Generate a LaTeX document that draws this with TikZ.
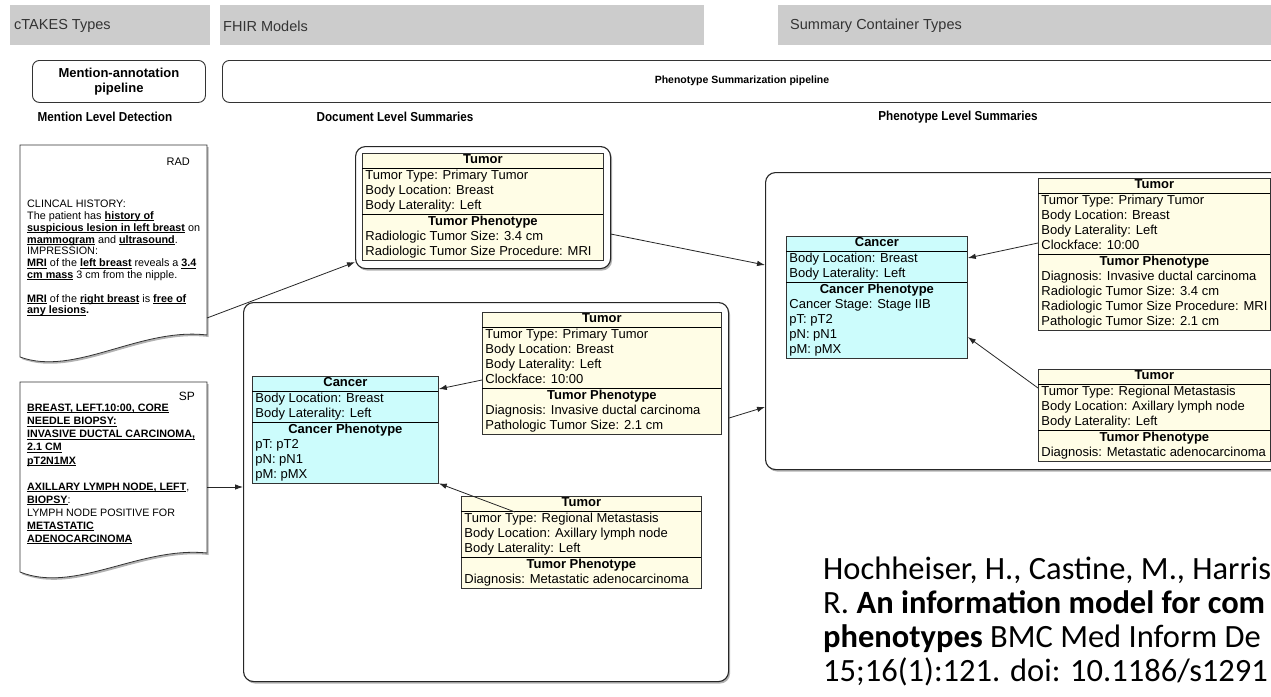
\documentclass[tikz,border=0pt]{standalone}
\usepackage{fontspec}
\setmainfont{Liberation Sans}
\newfontfamily\citefont{Carlito}
\usepackage{array}
\usepackage{graphicx}
\usetikzlibrary{arrows.meta,shadows,calc}

\definecolor{barGray}{HTML}{CCCCCC}
\definecolor{tumorFill}{HTML}{FFFDE6}
\definecolor{cancerFill}{HTML}{CCFCFC}
\definecolor{lineGray}{HTML}{333333}

\newcommand{\fsz}[2]{\fontsize{#1pt}{#2pt}\selectfont}
\newsavebox{\mentionbox}
\newcommand{\mention}[1]{\sbox\mentionbox{\bfseries #1}\rlap{\rule[-1.4pt]{\wd\mentionbox}{0.6pt}}\usebox\mentionbox}
\newcommand{\hdrow}[1]{\multicolumn{1}{c}{\bfseries #1}}
\newcommand{\condensed}[1]{\scalebox{0.9}[1]{#1}}
\setlength{\tabcolsep}{3pt}
\setlength{\arrayrulewidth}{0.8pt}

\begin{document}
\begin{tikzpicture}[x=1pt,y=-1pt,
  headerbar/.style={fill=barGray,draw=none,anchor=north west,inner sep=0pt},
  bartext/.style={anchor=west,inner sep=0pt,text=black!80,font=\fsz{14.5}{17}},
  pipebox/.style={draw=black!80,line width=0.9pt,rounded corners=7pt,fill=white,anchor=north west,inner sep=0pt,align=center},
  lvltitle/.style={font=\fsz{13}{15}\bfseries,inner sep=0pt},
  groupbox/.style={draw=black!85,line width=1.1pt,rounded corners=10pt,fill=white,anchor=north west,inner sep=0pt,
    drop shadow={shadow xshift=1.5pt,shadow yshift=-2pt,opacity=0.3,fill=black}},
  docshape/.style={draw=black!80,line width=0.8pt,fill=white,
    drop shadow={shadow xshift=1.5pt,shadow yshift=-2pt,opacity=0.3,fill=black}},
  doctext/.style={anchor=north west,inner sep=0pt,align=left},
  doclabel/.style={anchor=east,inner sep=0pt},
  tbl/.style={draw=lineGray,line width=0.8pt,inner sep=0pt,anchor=north west,font=\fsz{13}{15}},
  tumor/.style={tbl,fill=tumorFill},
  cancer/.style={tbl,fill=cancerFill},
  conn/.style={draw=black!85,line width=0.8pt,-{Latex[length=8pt,width=5.5pt]}},
  citeline/.style={anchor=base west,inner sep=0pt,font=\citefont\fsz{32.5}{34}},
]
\useasboundingbox (0,0) rectangle (1271,696);
\clip (0,0) rectangle (1271,696);
\fill[white] (0,0) rectangle (1271,696);

% column header bars
\node[headerbar,minimum width=200pt,minimum height=40pt] (barC) at (10,5) {};
\node[headerbar,minimum width=484pt,minimum height=40pt] (barF) at (220,5) {};
\node[headerbar,minimum width=510pt,minimum height=40pt] (barS) at (778,5) {};
\node[bartext] (barCtxt) at (14,26) {cTAKES Types};
\node[bartext] (barFtxt) at (223,26) {FHIR Models};
\node[bartext] (barStxt) at (790,26) {Summary Container Types};

% pipelines
\node[pipebox,minimum width=173pt,minimum height=42pt,font=\fsz{13}{15}\bfseries] (pipeL) at (32,60) {Mention-annotation\\pipeline};
\node[pipebox,minimum width=1110pt,minimum height=42pt] (pipeR) at (222,60) {};
\node[font=\fsz{10.5}{12}\bfseries,inner sep=0pt] (pipeRtxt) at (742,81) {Phenotype Summarization pipeline};

% level titles
\node[lvltitle] (lvlM) at (105,117) {\condensed{Mention Level Detection}};
\node[lvltitle] (lvlD) at (395,117) {\condensed{Document Level Summaries}};
\node[lvltitle] (lvlP) at (958,117) {\condensed{Phenotype Level Summaries}};

% source documents
\draw[docshape] (20,145) -- (207,145) -- (207,335) .. controls (140,327) and (75,377) .. (20,357) -- cycle;
\node[doclabel,font=\fsz{11}{13}] (radlbl) at (190,162) {RAD};
\node[doctext,font=\fsz{10.8}{11.8}] (radtxt) at (27,200) {CLINCAL HISTORY:\\
The patient has \mention{history of}\\
\mention{suspicious lesion in left breast} on\\
\mention{mammogram} and \mention{ultrasound}.\\
IMPRESSION:\\
\mention{MRI} of the \mention{left breast} reveals a \mention{3.4}\\
\mention{cm mass} 3 cm from the nipple.\\[11.8pt]
\mention{MRI} of the \mention{right breast} is \mention{free of}\\
\mention{any lesions}\textbf{.}};
\coordinate (radout) at (207,318);

\draw[docshape] (20,382) -- (207,382) -- (207,553) .. controls (140,546) and (75,594) .. (20,572) -- cycle;
\node[doclabel,font=\fsz{12}{14}] (splbl) at (195,396) {SP};
\node[doctext,font=\fsz{10.7}{13.1}] (sptxt) at (27,404) {\mention{BREAST, LEFT.10:00, CORE}\\
\mention{NEEDLE BIOPSY:}\\
\mention{INVASIVE DUCTAL CARCINOMA,}\\
\mention{2.1 CM}\\
\mention{pT2N1MX}\\[13.1pt]
\mention{AXILLARY LYMPH NODE, LEFT},\\
\mention{BIOPSY}:\\
LYMPH NODE POSITIVE FOR\\
\mention{METASTATIC}\\
\mention{ADENOCARCINOMA}};
\coordinate (spout) at (207,487);

% summary containers
\node[groupbox,minimum width=255pt,minimum height=122pt] (contA) at (355,146) {};
\node[groupbox,minimum width=485pt,minimum height=379pt] (contM) at (243,302) {};
\node[groupbox,minimum width=560pt,minimum height=297pt] (contR) at (765,172) {};

% document level: radiology tumor
\node[tumor] (tumA) at (362,153) {\begin{tabular}{p{235pt}}
\hdrow{Tumor}\\\hline
Tumor Type: Primary Tumor\\
Body Location: Breast\\
Body Laterality: Left\\\hline
\hdrow{Tumor Phenotype}\\
Radiologic Tumor Size: 3.4 cm\\
Radiologic Tumor Size Procedure: MRI
\end{tabular}};

% document level: pathology
\node[cancer] (canL) at (252,376) {\begin{tabular}{p{180pt}}
\hdrow{Cancer}\\\hline
Body Location: Breast\\
Body Laterality: Left\\\hline
\hdrow{Cancer Phenotype}\\
pT: pT2\\
pN: pN1\\
pM: pMX
\end{tabular}};

\node[tumor] (tumM) at (482,312) {\begin{tabular}{p{233pt}}
\hdrow{Tumor}\\\hline
Tumor Type: Primary Tumor\\
Body Location: Breast\\
Body Laterality: Left\\
Clockface: 10:00\\\hline
\hdrow{Tumor Phenotype}\\
Diagnosis: Invasive ductal carcinoma\\
Pathologic Tumor Size: 2.1 cm
\end{tabular}};

\node[tumor] (tumB) at (461,496) {\begin{tabular}{p{234pt}}
\hdrow{Tumor}\\\hline
Tumor Type: Regional Metastasis\\
Body Location: Axillary lymph node\\
Body Laterality: Left\\\hline
\hdrow{Tumor Phenotype}\\
Diagnosis: Metastatic adenocarcinoma
\end{tabular}};

% phenotype level
\node[cancer] (canR) at (786,236) {\begin{tabular}{p{175pt}}
\hdrow{Cancer}\\\hline
Body Location: Breast\\
Body Laterality: Left\\\hline
\hdrow{Cancer Phenotype}\\
Cancer Stage: Stage IIB\\
pT: pT2\\
pN: pN1\\
pM: pMX
\end{tabular}};

\node[tumor] (tumR1) at (1038,178) {\begin{tabular}{p{226pt}}
\hdrow{Tumor}\\\hline
Tumor Type: Primary Tumor\\
Body Location: Breast\\
Body Laterality: Left\\
Clockface: 10:00\\\hline
\hdrow{Tumor Phenotype}\\
Diagnosis: Invasive ductal carcinoma\\
Radiologic Tumor Size: 3.4 cm\\
Radiologic Tumor Size Procedure: MRI\\
Pathologic Tumor Size: 2.1 cm
\end{tabular}};

\node[tumor] (tumR2) at (1038,369) {\begin{tabular}{p{226pt}}
\hdrow{Tumor}\\\hline
Tumor Type: Regional Metastasis\\
Body Location: Axillary lymph node\\
Body Laterality: Left\\\hline
\hdrow{Tumor Phenotype}\\
Diagnosis: Metastatic adenocarcinoma
\end{tabular}};

% connectors
\draw[conn] (radout) -- ($(contA.south west)+(0,-7)$);
\draw[conn] (spout) -- (spout -| contM.west);
\draw[conn] ($(contA.south east)+(0,-35)$) -- ($(contR.north west)+(0,93)$);
\draw[conn] ($(contM.north east)+(0,116)$) -- ($(contR.north west)+(0,235)$);
\draw[conn] ($(tumM.north west)+(0,68)$) -- ($(canL.north east)+(0,13)$);
\draw[conn] ($(tumB.north west)+(54,16)$) -- (canL.south east);
\draw[conn] ($(tumR1.north west)+(0,65)$) -- ($(canR.north east)+(0,22)$);
\draw[conn] ($(tumR2.north west)+(0,19)$) -- ($(canR.north east)+(0,101)$);

% reference
\node[citeline] (cite1) at (823,579) {Hochheiser, H., Castine, M., Harris};
\node[citeline] (cite2) at (823,613) {R. \textbf{An information model for com}};
\node[citeline] (cite3) at (823,647) {\textbf{phenotypes} BMC Med Inform De};
\node[citeline] (cite4) at (823,681) {15;16(1):121. doi: 10.1186/s1291};
\end{tikzpicture}
\end{document}
